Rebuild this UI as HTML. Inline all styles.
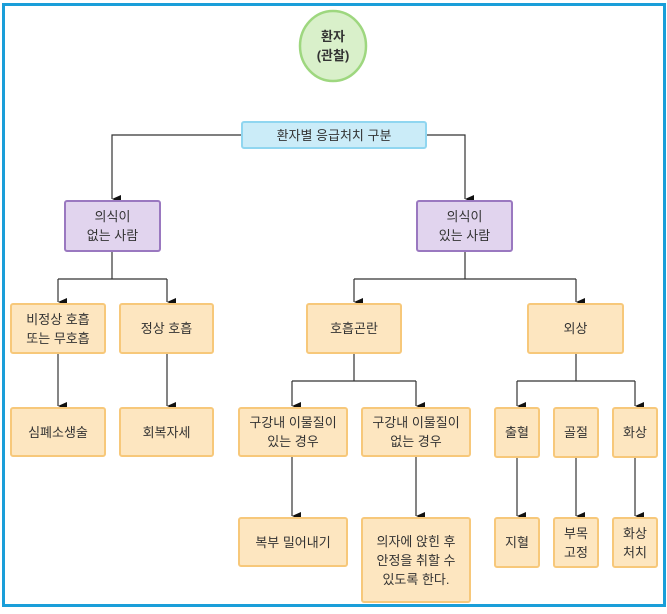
<!DOCTYPE html>
<html><head><meta charset="utf-8"><style>
html,body{margin:0;padding:0;background:#fff;}
body{width:667px;height:614px;position:relative;overflow:hidden;font-family:"Liberation Sans","Noto Sans CJK KR",sans-serif;}
.frame{position:absolute;left:2px;top:3px;width:658px;height:598px;border:3px solid #1a9ed9;}
.b{position:absolute;box-sizing:border-box;display:flex;align-items:center;justify-content:center;text-align:center;font-size:13px;line-height:19px;color:#333;border-radius:3px;}
.o{background:#fde6c0;border:2px solid #f7c87a;}
.p{background:#e1d4ee;border:2px solid #9a78c0;}
.c{background:#cbecf8;border:2px solid #90d6f0;}
svg{position:absolute;left:0;top:0;}
</style></head><body>
<div class="frame"></div>
<svg width="667" height="614">
<defs><marker id="a" markerWidth="8" markerHeight="9" refX="4" refY="9" orient="auto" markerUnits="userSpaceOnUse"><path d="M0,0 L8,0 L4,9 Z" fill="#111"/></marker></defs>
<g stroke="#333" stroke-width="1.2" fill="none">
<path d="M241,135 H112 V199" marker-end="url(#a)"/>
<path d="M427,135 H465 V199" marker-end="url(#a)"/>
<path d="M112,252 V279"/>
<path d="M58,279 H167"/>
<path d="M58,279 V302" marker-end="url(#a)"/>
<path d="M167,279 V302" marker-end="url(#a)"/>
<path d="M58,354 V406" marker-end="url(#a)"/>
<path d="M167,354 V406" marker-end="url(#a)"/>
<path d="M465,252 V279"/>
<path d="M354,279 H576"/>
<path d="M354,279 V302" marker-end="url(#a)"/>
<path d="M576,279 V302" marker-end="url(#a)"/>
<path d="M354,354 V381"/>
<path d="M292,381 H416"/>
<path d="M292,381 V406" marker-end="url(#a)"/>
<path d="M416,381 V406" marker-end="url(#a)"/>
<path d="M292,457 V516" marker-end="url(#a)"/>
<path d="M416,457 V516" marker-end="url(#a)"/>
<path d="M576,354 V381"/>
<path d="M517,381 H635"/>
<path d="M517,381 V406" marker-end="url(#a)"/>
<path d="M635,381 V406" marker-end="url(#a)"/>
<path d="M517,458 V516" marker-end="url(#a)"/>
<path d="M576,458 V516" marker-end="url(#a)"/>
<path d="M635,458 V516" marker-end="url(#a)"/>
</g>
<ellipse cx="333" cy="46" rx="33" ry="35" fill="#d9f0ca" stroke="#9ed77f" stroke-width="2.5"/>
</svg>
<div class="b" style="left:300px;top:18px;width:66px;height:56px;font-weight:bold;font-size:13px;">환자<br>(관찰)</div>
<div class="b c" style="left:241px;top:121px;width:186px;height:28px;">환자별 응급처치 구분</div>
<div class="b p" style="left:64px;top:200px;width:97px;height:52px;">의식이<br>없는 사람</div>
<div class="b p" style="left:416px;top:200px;width:97px;height:52px;">의식이<br>있는 사람</div>
<div class="b o" style="left:10px;top:303px;width:96px;height:51px;">비정상 호흡<br>또는 무호흡</div>
<div class="b o" style="left:119px;top:303px;width:95px;height:51px;">정상 호흡</div>
<div class="b o" style="left:10px;top:407px;width:96px;height:50px;">심폐소생술</div>
<div class="b o" style="left:119px;top:407px;width:95px;height:50px;">회복자세</div>
<div class="b o" style="left:306px;top:303px;width:96px;height:51px;">호흡곤란</div>
<div class="b o" style="left:527px;top:303px;width:97px;height:51px;">외상</div>
<div class="b o" style="left:238px;top:407px;width:110px;height:50px;">구강내 이물질이<br>있는 경우</div>
<div class="b o" style="left:361px;top:407px;width:110px;height:50px;">구강내 이물질이<br>없는 경우</div>
<div class="b o" style="left:238px;top:517px;width:110px;height:50px;">복부 밀어내기</div>
<div class="b o" style="left:361px;top:517px;width:110px;height:86px;">의자에 앉힌 후<br>안정을 취할 수<br>있도록 한다.</div>
<div class="b o" style="left:494px;top:407px;width:46px;height:51px;">출혈</div>
<div class="b o" style="left:553px;top:407px;width:46px;height:51px;">골절</div>
<div class="b o" style="left:612px;top:407px;width:46px;height:51px;">화상</div>
<div class="b o" style="left:494px;top:517px;width:46px;height:51px;">지혈</div>
<div class="b o" style="left:553px;top:517px;width:46px;height:51px;">부목<br>고정</div>
<div class="b o" style="left:612px;top:517px;width:46px;height:51px;">화상<br>처치</div>
</body></html>
